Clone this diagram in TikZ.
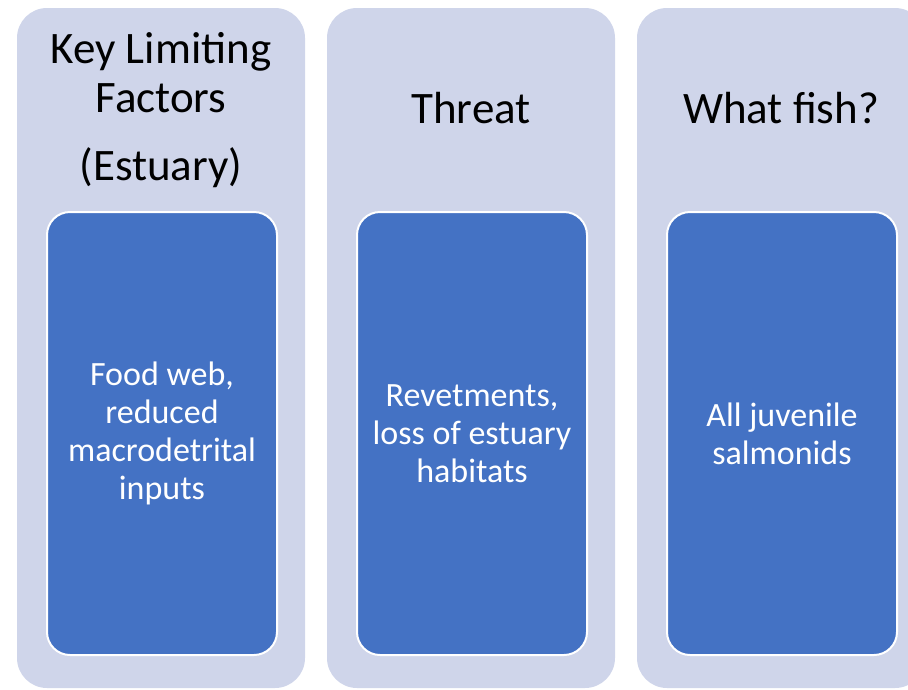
\documentclass[tikz,border=0pt]{standalone}
\usepackage{fontspec}
\setmainfont{Carlito}
\definecolor{panelfill}{HTML}{CFD5EA}
\definecolor{cardblue}{HTML}{4472C4}

\begin{document}
\begin{tikzpicture}[x=1pt,y=-1pt,
  panelbox/.style={rectangle, fill=panelfill, rounded corners=30pt,
    minimum width=288pt, minimum height=680pt, inner sep=0pt},
  cardbox/.style={rectangle, fill=cardblue, draw=white, line width=2pt,
    rounded corners=23pt, minimum width=230pt, minimum height=443pt, inner sep=0pt},
  headtext/.style={font=\fontsize{45}{49}\selectfont, align=center,
    inner sep=0pt, text=black},
  cardtext/.style={font=\fontsize{34}{38}\selectfont, align=center,
    inner sep=0pt, text=white}]
\useasboundingbox (0,0) rectangle (908,689);
\clip (0,0) rectangle (908,689);

% background panels
\node[panelbox] (p1) at (161,348) {};
\node[panelbox] (p2) at (471,348) {};
\node[panelbox] (p3) at (781,348) {};

% headings (anchored on the baseline of their last line)
\node[headtext, anchor=base] (h1) at (161,180) {Key Limiting\\Factors\\[19pt](Estuary)};
\node[headtext, anchor=base] (h2) at (471,123) {Threat};
\node[headtext, anchor=base] (h3) at (781,123) {What fish?};

% blue cards
\node[cardbox] (c1) at (162,433.5) {};
\node[cardbox] (c2) at (472,433.5) {};
\node[cardbox] (c3) at (782,433.5) {};

\node[cardtext] (t1) at (c1) {Food web,\\reduced\\macrodetrital\\inputs};
\node[cardtext] (t2) at (c2) {Revetments,\\loss of estuary\\habitats};
\node[cardtext] (t3) at (c3) {All juvenile\\salmonids};
\end{tikzpicture}
\end{document}
